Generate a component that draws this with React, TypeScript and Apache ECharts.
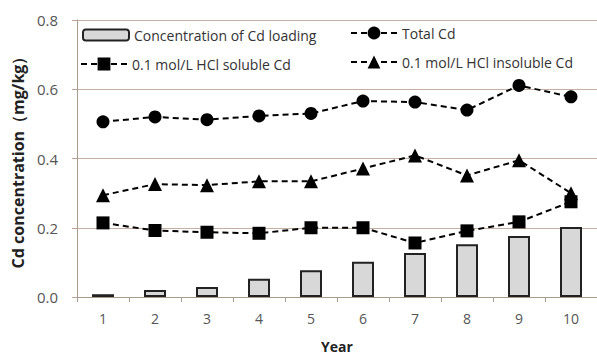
import React, { useEffect, useRef } from "react";
import * as echarts from "echarts";

const years = ["1", "2", "3", "4", "5", "6", "7", "8", "9", "10"];
const cdLoading = [0.008, 0.02, 0.029, 0.053, 0.077, 0.102, 0.127, 0.152, 0.176, 0.202];
const totalCd = [0.506, 0.52, 0.512, 0.523, 0.53, 0.566, 0.563, 0.54, 0.611, 0.578];
const solubleCd = [0.214, 0.192, 0.187, 0.184, 0.2, 0.2, 0.156, 0.191, 0.217, 0.275];
const insolubleCd = [0.294, 0.326, 0.323, 0.334, 0.334, 0.371, 0.409, 0.351, 0.395, 0.3];
const yTicks = [0, 0.2, 0.4, 0.6, 0.8];

const FONT = "Open Sans";

export default function App() {
  const ref = useRef<HTMLDivElement>(null);
  useEffect(() => {
    if (!ref.current) return;
    const chart = echarts.init(ref.current, null, { renderer: "svg" });
    const lineBase = {
      type: "line" as const,
      symbolSize: 13,
      lineStyle: { color: "#000", width: 2, type: [6, 4] as any },
      itemStyle: { color: "#000" },
    };
    const legendText = { fontFamily: FONT, fontSize: 14, color: "#333" };
    chart.setOption({
      animation: false,
      backgroundColor: "#fff",
      textStyle: { fontFamily: FONT },
      grid: { left: 77, top: 20, width: 526, height: 280, containLabel: false },
      legend: [
        {
          left: 82,
          top: 28,
          padding: 0,
          itemWidth: 46,
          itemHeight: 11,
          textStyle: legendText,
          data: ["Concentration of Cd loading"],
        },
        {
          left: 80,
          top: 57,
          padding: 0,
          itemWidth: 46,
          itemHeight: 16,
          textStyle: legendText,
          data: ["0.1 mol/L HCl soluble Cd"],
        },
        {
          left: 350,
          top: 26,
          padding: 0,
          orient: "vertical",
          itemGap: 15,
          itemWidth: 46,
          itemHeight: 16,
          textStyle: legendText,
          data: ["Total Cd", "0.1 mol/L HCl insoluble Cd"],
        },
      ],
      xAxis: {
        type: "category",
        data: years,
        boundaryGap: true,
        name: "Year",
        nameLocation: "middle",
        nameGap: 42,
        nameTextStyle: { fontFamily: FONT, fontSize: 14, fontWeight: "bold", color: "#222" },
        axisLine: { lineStyle: { color: "#a99a8e", width: 1 } },
        axisTick: { show: true, length: 5, lineStyle: { color: "#a99a8e" } },
        axisLabel: { fontFamily: FONT, fontSize: 14, color: "#555", margin: 14 },
      },
      yAxis: {
        type: "value",
        min: 0,
        max: 0.8,
        interval: 0.2,
        name: "Cd concentration（mg/kg）",
        nameLocation: "middle",
        nameGap: 49,
        nameTextStyle: { fontFamily: FONT, fontSize: 16, fontWeight: "bold", color: "#222" },
        axisLine: { show: true, lineStyle: { color: "#a99a8e", width: 1 } },
        axisTick: { show: true, length: 5, lineStyle: { color: "#b9a79a" } },
        splitLine: { lineStyle: { color: "#c4afa2", width: 1 } },
        axisLabel: {
          fontFamily: FONT,
          fontSize: 15,
          color: "#555",
          margin: 19,
          formatter: (v: number) => (yTicks.includes(Math.round(v * 10) / 10) ? v.toFixed(1) : ""),
        },
      },
      series: [
        {
          name: "Concentration of Cd loading",
          type: "bar",
          data: cdLoading,
          barWidth: 22,
          itemStyle: { color: "#d8d8d8", borderColor: "#222", borderWidth: 2 },
        },
        { ...lineBase, name: "Total Cd", data: totalCd, symbol: "circle" },
        { ...lineBase, name: "0.1 mol/L HCl soluble Cd", data: solubleCd, symbol: "rect" },
        { ...lineBase, name: "0.1 mol/L HCl insoluble Cd", data: insolubleCd, symbol: "triangle", symbolSize: 14 },
      ],
    });
    return () => chart.dispose();
  }, []);
  return (
    <div style={{ position: "absolute", left: 0, top: 0, width: 597, height: 358, overflow: "hidden" }}>
      <div ref={ref} style={{ width: 597, height: 358 }} />
    </div>
  );
}
